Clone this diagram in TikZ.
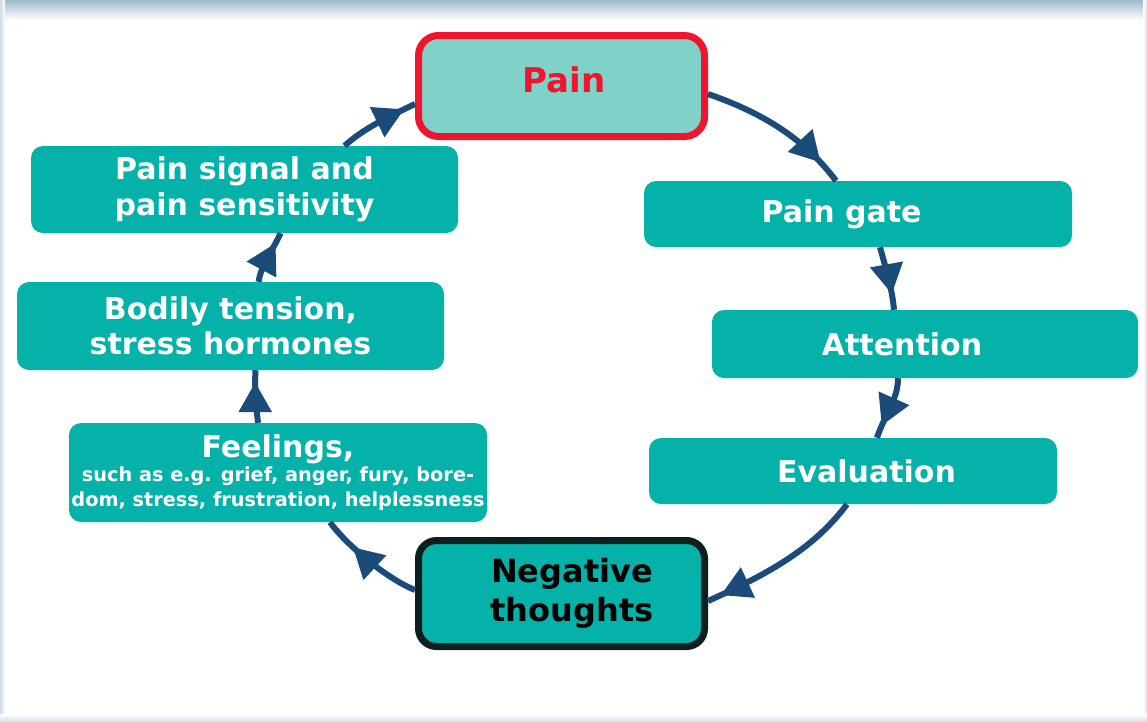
\documentclass[tikz,border=0pt]{standalone}
\usepackage{fontspec}
\setmainfont{DejaVu Sans}
\usetikzlibrary{arrows.meta,decorations.markings}
\definecolor{teal1}{HTML}{04B2A9}
\definecolor{lteal}{HTML}{80D1C8}
\definecolor{painred}{HTML}{F0142D}
\definecolor{navy}{HTML}{1B4B78}
\definecolor{negborder}{HTML}{0D1F1E}
\definecolor{edge}{HTML}{9DBACB}
\begin{document}
\begin{tikzpicture}[x=1pt,y=-1pt,
  box/.style={rectangle, rounded corners=12pt, fill=teal1, text=white, inner sep=0pt,
    align=center, font=\bfseries\fontsize{30}{35.5}\selectfont},
  conn/.style={draw=navy, line width=6pt, postaction={decorate}},
  tipat/.style={decoration={markings, mark=at position #1 with {\arrow{Triangle[length=30pt,width=32pt]}}}}
]
\useasboundingbox (0,0) rectangle (1147,721);
\fill[white] (0,0) rectangle (1147,721);
\shade[top color=edge, bottom color=white] (0,0) rectangle (1147,20);
\shade[left color=edge!50, right color=white] (0,0) rectangle (5,721);
\shade[left color=white, right color=edge!40] (1143,0) rectangle (1147,721);
\shade[top color=white, bottom color=edge!40] (0,714) rectangle (1147,721);

% nodes
\node[box, fill=lteal, draw=painred, line width=7pt, rounded corners=20pt,
  minimum width=286pt, minimum height=101pt, text=painred,
  font=\bfseries\fontsize{34}{38}\selectfont] (pain) at (561.5,86)
  {\raisebox{-6.5pt}[0pt][0pt]{\hspace*{5pt}Pain}};
\node[box, minimum width=427pt, minimum height=87pt] (signal) at (244.5,189.5)
  {Pain signal and\\pain sensitivity};
\node[box, minimum width=428pt, minimum height=66pt] (gate) at (858,214)
  {\hspace*{-33pt}Pain gate};
\node[box, minimum width=427pt, minimum height=88pt] (bodily) at (230.5,326)
  {Bodily tension,\\stress hormones};
\node[box, minimum width=426pt, minimum height=68pt] (att) at (925,344)
  {\hspace*{-46pt}Attention};
\node[box, minimum width=418pt, minimum height=99pt,
  font=\bfseries\fontsize{19.3}{24.5}\selectfont] (feel) at (278,472.5)
  {{\fontsize{30}{24.5}\selectfont Feelings,}\\such as e.g. grief, anger, fury, bore-\\dom, stress, frustration, helplessness};
\node[box, minimum width=408pt, minimum height=66pt] (eval) at (853,471)
  {\hspace*{27pt}Evaluation};
\node[box, draw=negborder, line width=7pt, rounded corners=18pt,
  minimum width=286pt, minimum height=106pt, text=black,
  font=\bfseries\fontsize{32}{39}\selectfont] (neg) at (561.5,593.5)
  {\hspace*{21pt}Negative\\\hspace*{21pt}thoughts};

% connectors
\draw[conn, tipat=-24pt] ([yshift=-8pt]pain.east) .. controls +(52,18) and +(-33,-44) .. ([xshift=-22pt]gate.north);
\draw[conn, tipat=-16pt] ([xshift=22pt]gate.south) .. controls +(6,22) and +(-2,-22) .. ([xshift=-31pt]att.north);
\draw[conn, tipat=-13pt] ([xshift=-27pt]att.south) .. controls +(0,22) and +(7,-22) .. ([xshift=24pt]eval.north);
\draw[conn, tipat=-14pt] ([xshift=-6pt]eval.south) .. controls +(-35,47) and +(55,-25) .. ([yshift=-7.5pt]neg.east);
\draw[conn, tipat=-34pt] ([yshift=3.5pt]neg.west) .. controls +(-30,-12) and +(14,20) .. ([xshift=52pt]feel.south);
\draw[conn, tipat=-12pt] ([xshift=-20pt]feel.north) .. controls +(-2,-18) and +(-1,18) .. ([xshift=25pt]bodily.south);
\draw[conn, tipat=-11pt] ([xshift=28pt]bodily.north) .. controls +(3,-18) and +(-8,18) .. ([xshift=36pt]signal.south);
\draw[conn, tipat=-12pt] ([xshift=100pt]signal.north) .. controls +(20,-18) and +(-25,12) .. ([yshift=-18pt]pain.west);
\end{tikzpicture}
\end{document}
